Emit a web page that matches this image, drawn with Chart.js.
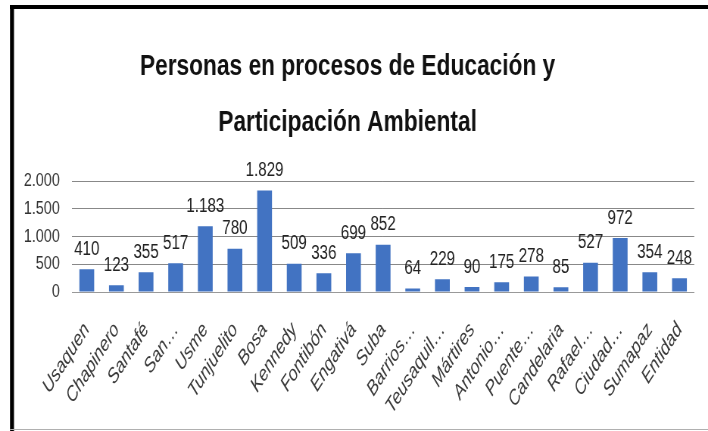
<!DOCTYPE html>
<html>
<head>
<meta charset="utf-8">
<script src="https://cdn.jsdelivr.net/npm/chart.js@4.4.1/dist/chart.umd.min.js"></script>
<style>
  html, body { margin: 0; padding: 0; background: #fff; overflow: hidden; }
  #wrap { position: relative; width: 708px; height: 431px; }
  /* the source picture is narrow and tall, so the canvas is drawn wider and squeezed */
  #chart { position: absolute; left: 0; top: 0; display: block; }
  #edge-top { position: absolute; z-index: 10; left: 10px; top: 5px; width: 698px; height: 4px; background: #000; }
</style>
</head>
<body>
<div id="wrap">
  <canvas id="chart" width="935" height="431" style="width:708px;height:431px"></canvas>
  <div id="edge-top"></div>
</div>
<script>
// Localidades y personas atendidas
const localidades = ['Usaquen', 'Chapinero', 'Santafé', 'San…', 'Usme', 'Tunjuelito', 'Bosa',
    'Kennedy', 'Fontibón', 'Engativá', 'Suba', 'Barrios…', 'Teusaquil…', 'Mártires',
    'Antonio…', 'Puente…', 'Candelaria', 'Rafael…', 'Ciudad…', 'Sumapaz', 'Entidad'];
const personas = [410, 123, 355, 517, 1183, 780, 1829, 509, 336, 699, 852, 64, 229, 90,
    175, 278, 85, 527, 972, 354, 248];
const yTicks = [0, 500, 1000, 1500, 2000];

const FONT = "'Liberation Sans', Arial, sans-serif";
const SQUEEZE = 935 / 708;

function fmtNum(n) {
    return String(n).replace(/\B(?=(\d{3})+(?!\d))/g, '.');
}

// marco negro de la captura original
const frame = {
    id: 'frame',
    afterDraw(chart) {
        const ctx = chart.ctx;
        ctx.save();
        ctx.fillStyle = '#000';
        ctx.fillRect(10 * SQUEEZE, 5, chart.width, 4);
        ctx.fillRect(10 * SQUEEZE, 5, 4 * SQUEEZE, chart.height);
        ctx.fillStyle = '#b0b0b0';
        ctx.fillRect(10 * SQUEEZE, 429, chart.width, 1);
        ctx.restore();
    }
};

// etiquetas de valor sobre cada barra
const barLabels = {
    id: 'barLabels',
    afterDatasetsDraw(chart) {
        const ctx = chart.ctx;
        const meta = chart.getDatasetMeta(0);
        ctx.save();
        ctx.font = '20px ' + FONT;
        ctx.fillStyle = '#222';
        ctx.textAlign = 'center';
        ctx.textBaseline = 'bottom';
        meta.data.forEach((bar, i) => {
            ctx.fillText(fmtNum(personas[i]), bar.x, bar.y - 10);
        });
        ctx.restore();
    }
};

new Chart(document.getElementById('chart'), {
    type: 'bar',
    data: {
        labels: localidades,
        datasets: [{
            data: personas,
            backgroundColor: '#4273c2',
            categoryPercentage: 1,
            barPercentage: 0.5,
        }],
    },
    plugins: [barLabels, frame],
    options: {
        responsive: false,
        animation: false,
        layout: { padding: { left: 0, right: 17, top: 0, bottom: 0 } },
        plugins: {
            legend: { display: false },
            tooltip: { enabled: false },
            title: {
                display: true,
                text: ['Personas en procesos de Educación y', 'Participación Ambiental'],
                color: '#111',
                font: { family: FONT, size: 30, weight: 'bold', lineHeight: 1.85 },
                padding: { top: 39, bottom: 31 },
            },
        },
        scales: {
            x: {
                grid: { display: false },
                border: { display: true, color: '#999' },
                ticks: {
                    autoSkip: false,
                    minRotation: 50,
                    maxRotation: 50,
                    padding: 18,
                    color: '#3a3a3a',
                    font: { family: FONT, size: 21, style: 'italic' },
                },
                afterFit(scale) { scale.height = 139; },
            },
            y: {
                min: 0,
                max: 2000,
                afterBuildTicks(scale) { scale.ticks = yTicks.map(v => ({ value: v })); },
                grid: { color: '#888', drawTicks: false },
                border: { display: false },
                ticks: {
                    padding: 16,
                    color: '#333',
                    font: { family: FONT, size: 19 },
                    callback: v => fmtNum(v),
                },
                afterFit(scale) { scale.width = 95; },
            },
        },
    },
});
</script>
</body>
</html>
